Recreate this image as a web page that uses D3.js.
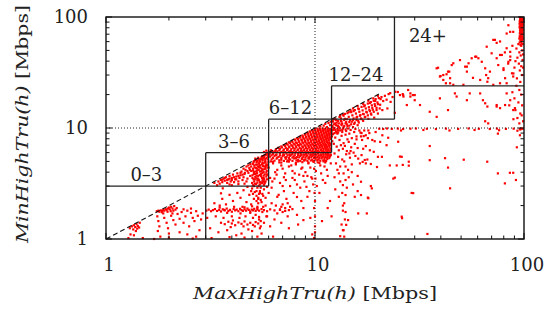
<!DOCTYPE html>
<html>
<head>
<meta charset="utf-8">
<script src="https://cdn.jsdelivr.net/npm/d3@7"></script>
<style>
  body { margin: 0; background: #fff; }
  text { font-family: "DejaVu Serif", serif; fill: #222; }
</style>
</head>
<body>
<div id="container"></div>
<script>
// [MaxHighTru, MinHighTru] in Mbps
const lowCluster = [
  [1.30,1.25],[1.33,1.30],[1.36,1.33],[1.38,1.28],[1.40,1.36],[1.42,1.31],[1.35,1.22],[1.44,1.27],[1.39,1.18],[1.31,1.10],[1.36,1.08],[1.28,1.02],[1.45,1.40],[1.41,1.24],
  [1.75,1.78],[1.78,1.80],[1.80,1.76],[1.83,1.81],[1.86,1.79],[1.88,1.84],[1.90,1.80],[1.93,1.86],[1.95,1.82],[1.98,1.88],[2.00,1.92],[2.02,1.85],[2.05,1.95],[2.08,1.88],[2.10,1.80],[2.12,1.98],[2.04,1.78],[1.97,1.76],[1.85,1.74],[2.15,1.84],[2.18,1.90],
  [1.76,1.60],[1.78,1.45],[1.80,1.30],[1.77,1.18],[1.82,1.05],[1.90,1.55],[1.95,1.40],[1.98,1.25],[2.00,1.12],[2.05,1.62],[2.10,1.48],[2.15,1.35],[2.20,1.68],[2.25,1.52],[2.30,1.75],[2.35,1.40],[2.40,1.60],[2.45,1.80],[2.50,1.30],[2.55,1.72],[2.60,1.55],[2.65,1.45],[2.70,1.78],[2.75,1.62],[2.80,1.20],[2.85,1.50],[2.25,1.15],[2.45,1.10],[2.70,1.05],[1.88,1.70],[2.08,1.70],[2.35,1.85],[2.55,1.88],[2.90,1.70],
  [1.5,1.02],[1.7,1.0],[2.0,1.03],[2.6,1.01]
];

const bandRows = [
  [3.02,1.80],[3.10,1.84],[3.18,1.78],[3.25,1.82],[3.32,1.86],[3.40,1.79],[3.48,1.83],[3.55,1.77],[3.62,1.85],[3.70,1.81],[3.78,1.88],[3.85,1.79],[3.92,1.83],[4.00,1.76],[4.08,1.86],[4.15,1.81],[4.22,1.84],[4.30,1.78],[4.38,1.87],[4.45,1.82],[4.52,1.79],[4.60,1.85],[4.68,1.80],[4.75,1.88],[4.82,1.83],[4.90,1.77],[4.98,1.84],[5.05,1.81],[5.12,1.87],[5.20,1.79],[5.30,1.84],[5.40,1.80],[5.55,1.86],[5.70,1.82],[5.90,1.78],[6.10,1.85],[6.40,1.81],[6.80,1.83],[7.20,1.79],[7.50,1.82],[7.80,1.86],
  [3.5,1.92],[4.1,1.95],[4.6,1.93],[5.0,1.97],[3.8,1.72],[4.4,1.70],[4.9,1.72],[5.3,1.95],
  [3.55,1.40],[3.70,1.36],[3.85,1.43],[4.00,1.38],[4.15,1.33],[4.30,1.41],[4.45,1.37],[4.60,1.44],[4.75,1.35],[4.90,1.40],[5.05,1.34],[5.20,1.42],[5.35,1.38],[5.50,1.45],[4.05,1.47],[4.55,1.30],[5.15,1.30],[3.95,1.28],
  [3.05,1.55],[3.15,1.25],[3.3,2.1],[3.35,1.6],[3.45,1.15],[3.6,2.3],[3.65,1.55],[3.75,2.05],[3.8,1.2],[3.9,2.5],[4.0,1.6],[4.05,2.2],[4.2,1.08],[4.25,2.6],[4.35,1.55],[4.4,2.35],[4.5,1.95],[4.55,2.75],[4.65,1.6],[4.7,2.15],[4.8,1.22],[4.85,2.5],[4.95,2.05],[5.0,2.85],[5.05,1.55],[5.1,2.3],[5.15,2.65],[5.2,1.65],[5.25,2.45],[5.3,2.9],[5.35,2.1],[5.4,1.58],[5.45,2.7],[5.5,2.25],[5.55,1.12],[5.6,2.55],[5.65,1.95],[5.7,2.8],[5.8,2.35],[5.9,1.6],[6.0,2.6],[6.2,2.1],[6.4,1.5],[6.6,2.4],[6.9,1.95],[7.1,2.7],[7.4,1.6],[3.2,1.02],[3.9,1.04],[4.6,1.03],[5.3,1.05],[4.45,1.12],[5.0,1.18],[5.45,1.25],[3.5,2.0],[4.75,2.95],[5.1,3.0],[5.25,2.2],[5.4,2.55],[5.5,2.9],[5.05,2.55],[4.95,2.7],[5.35,2.35],
  [5.25,2.7],[5.45,2.6],[5.65,2.45],[5.35,2.3],[5.55,2.15],[5.8,2.0],[5.3,1.9],[5.6,1.75],[5.85,1.6],[5.4,1.5],[5.7,1.4],[5.5,1.3],
  [3.62,2.86],[3.55,2.58],[3.68,1.83]
];

const midScatter = [
  [6.3,4.8],[6.6,4.2],[6.9,4.6],[7.2,3.9],[7.5,4.5],[7.8,4.1],[8.1,4.7],[8.4,3.8],[8.7,4.4],[9.0,4.0],[9.3,4.8],[9.6,3.6],[9.9,4.3],[10.3,4.9],[10.7,3.9],[11.1,4.5],[11.5,3.7],[6.4,3.5],[6.8,3.2],[7.1,3.6],[7.6,3.0],[8.0,3.4],[8.5,2.9],[8.9,3.3],[9.4,2.7],[9.8,3.1],[10.5,2.6],[11.2,3.2],[6.2,2.9],[6.7,2.5],[7.3,2.3],[7.9,2.6],[8.6,2.2],[9.2,2.4],[6.5,2.0],[6.8,1.85],[7.0,2.05],[7.2,1.9],[7.4,2.1],[7.0,1.75],[6.6,1.7],[7.6,1.95],[8.2,1.65],[8.8,1.9],[9.5,1.55],[9.9,1.9],[10.0,1.3],[10.0,1.15],[10.0,2.2],[9.7,1.1],[8.3,1.35],[7.5,1.25],[6.9,1.4],[11.8,2.2],[12.5,2.8],[13.2,3.3],[13.5,2.6],[13.8,2.1],[13.6,1.8],[13.9,1.5],[13.4,1.35],[13.7,1.2],[13.8,1.05],[14.2,2.9],[14.5,3.6],[12.8,4.2],[13.0,3.9],[14.0,4.5],[15.0,4.0],[16.0,3.7],[17.5,4.8],[12.0,1.6],[11.5,1.9],[15.5,2.4],[10.8,1.45],[6.1,1.3],[6.3,1.05],
  [5.8,4.9],[6.0,4.4],[6.15,5.0],[6.45,4.0],[6.75,4.9],[7.0,4.3],[7.35,5.0],[7.7,4.6],[8.0,3.9],[8.3,5.0],[8.6,4.3],[8.9,5.1],[9.2,3.7],[9.5,4.4],[9.8,5.0],[10.1,4.1],[10.6,4.6],[11.0,5.0],[11.4,4.2],[11.9,4.8],[5.9,3.8],[6.25,3.3],[6.55,3.8],[7.0,3.0],[7.25,3.4],[7.8,3.55],[8.2,3.1],[8.8,3.7],[9.1,2.95],[9.7,3.5],[10.2,3.0],[10.9,3.4],[5.7,3.3],[5.9,2.95],[6.1,3.55],
  [8.2,2.39],[8.8,1.48],[9.9,1.02],[10.0,1.6],[9.95,2.6],[10.05,3.5],
  [13.7,3.9],[13.6,3.06],[14.0,2.49],[13.6,2.0],[14.0,1.75],[14.4,1.48],[14.1,1.34],[13.6,1.2],[13.2,1.06]
];

const diagonalCore = [
  [3.45,3.3],[3.55,3.4],[3.6,3.25],[3.65,3.5],[3.7,3.35],[3.75,3.6],[3.8,3.2],[3.85,3.45],[3.9,3.7],[3.95,3.3],[4.0,3.55],[4.05,3.8],[4.1,3.25],[4.15,3.45],[4.2,3.65],[4.25,3.9],[4.3,3.3],[4.35,3.55],[4.4,3.75],[4.45,4.05],[4.5,3.4],[4.55,3.6],[4.6,3.85],[4.65,4.2],[4.7,3.3],[4.75,3.5],[4.8,3.95],[4.85,4.35],[4.9,3.7],[4.95,4.1],[3.5,3.15],[3.9,3.1],[4.3,3.12],[4.6,3.15],[3.3,3.2],[3.4,3.05],[4.0,3.05],
  [5.05,3.05],[5.22,3.12],[5.38,3.02],[5.55,3.18],[5.7,3.08],[5.12,3.3],[5.3,3.38],[5.46,3.25],[5.62,3.42],[5.8,3.3],[5.02,3.55],[5.18,3.62],[5.35,3.5],[5.52,3.68],[5.68,3.55],[5.85,3.65],[5.1,3.85],[5.28,3.92],[5.44,3.78],[5.6,3.95],[5.75,3.82],[5.06,4.15],[5.2,4.05],[5.38,4.2],[5.55,4.1],[5.72,4.25],[5.88,4.12],[5.14,4.42],[5.32,4.5],[5.48,4.38],[5.64,4.55],[5.8,4.45],[5.04,4.75],[5.22,4.68],[5.4,4.82],[5.58,4.72],[5.75,4.88],[5.9,4.7],[5.1,5.02],[5.28,5.1],[5.45,4.98],[5.62,5.15],[5.78,5.05],[5.95,5.2],[5.18,5.3],[5.35,5.4],[5.52,5.28],[5.7,5.45],[5.86,5.35],[5.25,3.72],[5.42,4.62],[5.6,3.2],[5.3,4.3],[5.5,5.2],[5.15,3.45],[5.68,4.0],
  [6.05,5.82],[6.3,5.85],[6.55,5.78],[6.8,5.86],[7.05,5.8],[7.3,5.88],[7.55,5.79],[7.8,5.84],[8.05,5.9],[8.3,5.81],[8.55,5.87],[8.8,5.78],[9.05,5.85],[9.3,5.9],[9.55,5.8],[9.8,5.86],[10.05,5.82],[10.35,5.88],[10.65,5.79],[10.95,5.85],[11.25,5.9],[11.55,5.83],[11.85,5.78],
  [6.1,5.52],[6.4,5.6],[6.7,5.5],[7.0,5.58],[7.3,5.48],[7.6,5.62],[7.9,5.54],[8.2,5.46],[8.5,5.6],[8.8,5.52],[9.1,5.58],[9.4,5.47],[9.7,5.6],[10.0,5.55],[10.3,5.5],[10.6,5.62],[10.9,5.53],[11.2,5.48],[11.5,5.6],[11.8,5.55],
  [6.2,5.22],[6.55,5.3],[6.9,5.18],[7.25,5.28],[7.6,5.2],[7.95,5.32],[8.3,5.15],[8.65,5.26],[9.0,5.2],[9.35,5.3],[9.7,5.18],[10.05,5.28],[10.4,5.2],[10.75,5.32],[11.1,5.16],[11.45,5.25],
  [6.3,4.95],[6.9,4.88],[7.5,4.98],[8.1,4.85],[8.7,4.92],[9.3,4.87],[9.9,4.96],[10.5,4.84],[11.2,4.9],
  [5.7,6.08],[6.0,6.12],[6.3,6.05],[6.6,6.15],[6.9,6.1],[7.2,6.06],[7.5,6.14],[7.8,6.08],[8.1,6.12],[8.4,6.04],[8.7,6.16],[9.0,6.1],[9.3,6.07],[9.6,6.13],[9.9,6.05],[10.2,6.15],[10.5,6.09],[10.8,6.12],[11.1,6.06],[11.4,6.14],[11.7,6.1],
  [6.5,6.42],[6.8,6.5],[7.1,6.4],[7.4,6.48],[7.7,6.44],[8.0,6.52],[8.3,6.4],[8.6,6.47],[8.9,6.43],[9.2,6.5],[9.5,6.41],[9.8,6.48],[10.1,6.44],[10.4,6.52],[10.7,6.4],[11.0,6.46],[11.3,6.5],[11.6,6.42],[11.9,6.47],
  [6.9,6.82],[7.2,6.9],[7.5,6.8],[7.8,6.88],[8.1,6.84],[8.4,6.92],[8.7,6.8],[9.0,6.86],[9.3,6.9],[9.6,6.82],[9.9,6.88],[10.2,6.8],[10.5,6.9],[10.8,6.84],[11.1,6.88],[11.4,6.82],[11.7,6.9],
  [7.3,7.2],[7.6,7.3],[7.9,7.22],[8.2,7.28],[8.5,7.2],[8.8,7.32],[9.1,7.24],[9.4,7.3],[9.7,7.2],[10.0,7.28],[10.3,7.22],[10.6,7.3],[10.9,7.25],[11.2,7.2],[11.5,7.3],[11.8,7.24],
  [7.75,7.66],[8.05,7.74],[8.35,7.68],[8.65,7.75],[8.95,7.66],[9.25,7.72],[9.55,7.68],[9.85,7.76],[10.15,7.7],[10.45,7.66],[10.75,7.74],[11.05,7.7],[11.35,7.66],[11.65,7.74],
  [8.2,8.1],[8.5,8.2],[8.8,8.12],[9.1,8.18],[9.4,8.1],[9.7,8.2],[10.0,8.14],[10.3,8.2],[10.6,8.1],[10.9,8.16],[11.2,8.2],[11.5,8.12],[11.8,8.18],
  [8.7,8.56],[9.0,8.64],[9.3,8.58],[9.6,8.62],[9.9,8.56],[10.2,8.64],[10.5,8.58],[10.8,8.62],[11.1,8.56],[11.4,8.64],[11.7,8.6],
  [9.2,9.05],[9.5,9.14],[9.8,9.08],[10.1,9.12],[10.4,9.06],[10.7,9.14],[11.0,9.08],[11.3,9.12],[11.6,9.05],[11.9,9.14],
  [9.7,9.55],[10.0,9.64],[10.3,9.58],[10.6,9.62],[10.9,9.56],[11.2,9.64],[11.5,9.58],[11.8,9.62]
];

// second pass over the solid red wedge, between the rows above
const denseFill = [
  [5.85,6.25],[6.15,6.3],[6.45,6.22],[6.75,6.28],[7.05,6.24],[7.35,6.3],[7.65,6.22],[7.95,6.27],[8.25,6.3],[8.55,6.23],[8.85,6.28],[9.15,6.25],[9.45,6.3],[9.75,6.22],[10.05,6.28],[10.35,6.24],[10.65,6.3],[10.95,6.22],[11.25,6.27],[11.55,6.3],[11.85,6.24],
  [6.65,6.62],[6.95,6.68],[7.25,6.6],[7.55,6.7],[7.85,6.64],[8.15,6.68],[8.45,6.6],[8.75,6.7],[9.05,6.63],[9.35,6.68],[9.65,6.61],[9.95,6.7],[10.25,6.64],[10.55,6.68],[10.85,6.6],[11.15,6.7],[11.45,6.64],[11.75,6.68],
  [7.1,7.02],[7.4,7.08],[7.7,7.0],[8.0,7.1],[8.3,7.04],[8.6,7.08],[8.9,7.0],[9.2,7.1],[9.5,7.04],[9.8,7.08],[10.1,7.02],[10.4,7.1],[10.7,7.04],[11.0,7.08],[11.3,7.02],[11.6,7.1],[11.9,7.05],
  [7.5,7.42],[7.8,7.48],[8.1,7.4],[8.4,7.5],[8.7,7.44],[9.0,7.48],[9.3,7.4],[9.6,7.5],[9.9,7.44],[10.2,7.48],[10.5,7.42],[10.8,7.5],[11.1,7.44],[11.4,7.48],[11.7,7.42],
  [8.0,7.88],[8.3,7.94],[8.6,7.86],[8.9,7.92],[9.2,7.88],[9.5,7.94],[9.8,7.86],[10.1,7.92],[10.4,7.88],[10.7,7.94],[11.0,7.86],[11.3,7.92],[11.6,7.88],[11.9,7.94],
  [8.45,8.32],[8.75,8.38],[9.05,8.3],[9.35,8.4],[9.65,8.34],[9.95,8.38],[10.25,8.3],[10.55,8.4],[10.85,8.34],[11.15,8.38],[11.45,8.3],[11.75,8.4],
  [8.95,8.82],[9.25,8.88],[9.55,8.8],[9.85,8.9],[10.15,8.84],[10.45,8.88],[10.75,8.8],[11.05,8.9],[11.35,8.84],[11.65,8.88],[11.95,8.82],
  [9.45,9.32],[9.75,9.38],[10.05,9.3],[10.35,9.4],[10.65,9.34],[10.95,9.38],[11.25,9.3],[11.55,9.4],[11.85,9.34],
  [10.0,9.82],[10.3,9.88],[10.6,9.8],[10.9,9.9],[11.2,9.84],[11.5,9.88],[11.8,9.82],
  [10.6,10.3],[11.0,10.5],[11.4,10.2],[11.8,10.6],[11.2,10.9],[11.6,11.1],[11.9,11.4],
  [6.2,5.68],[6.5,5.72],[6.8,5.66],[7.1,5.72],[7.4,5.68],[7.7,5.74],[8.0,5.66],[8.3,5.72],[8.6,5.7],[8.9,5.74],[9.2,5.66],[9.5,5.72],[9.8,5.68],[10.1,5.74],[10.4,5.66],[10.7,5.72],[11.0,5.7],[11.3,5.74],[11.6,5.66],[11.9,5.7],
  [6.3,5.38],[6.6,5.42],[6.9,5.36],[7.2,5.44],[7.5,5.38],[7.8,5.42],[8.1,5.36],[8.4,5.44],[8.7,5.38],[9.0,5.42],[9.3,5.36],[9.6,5.44],[9.9,5.38],[10.2,5.42],[10.5,5.36],[10.8,5.44],[11.1,5.38],[11.4,5.42],[11.7,5.36],
  [6.4,5.08],[6.75,5.12],[7.1,5.05],[7.45,5.12],[7.8,5.06],[8.15,5.1],[8.5,5.04],[8.85,5.12],[9.2,5.06],[9.55,5.1],[9.9,5.05],[10.25,5.12],[10.6,5.06],[10.95,5.1],[11.3,5.04],
  [5.0,3.2],[5.15,3.15],[5.3,3.22],[5.45,3.1],[5.6,3.3],[5.75,3.18],[5.9,3.45],[5.08,3.45],[5.25,3.52],[5.4,3.38],[5.58,3.55],[5.72,3.45],[5.95,3.8],[5.02,3.75],[5.18,3.85],[5.35,3.7],[5.52,3.85],[5.68,3.72],[5.85,3.98],[5.1,4.0],[5.27,4.12],[5.45,4.05],[5.62,4.2],[5.8,4.3],[5.95,4.4],[5.05,4.3],[5.22,4.35],[5.4,4.45],[5.56,4.3],[5.72,4.5],[5.9,4.6],[5.12,4.6],[5.3,4.7],[5.48,4.6],[5.65,4.8],[5.82,4.62],[5.98,4.95],[5.08,4.9],[5.25,4.95],[5.42,5.1],[5.6,4.9],[5.78,5.25],[5.94,5.5],[5.2,5.15],[5.38,5.25],[5.55,5.45],[5.72,5.6],[5.88,5.75],[5.3,5.0],[5.65,5.35],
  [4.55,4.3],[4.7,4.5],[4.8,4.6],[4.9,4.75],[4.95,4.5],[4.75,4.1],[4.88,4.2],[4.62,3.95],[4.5,3.8],[4.4,3.95],[4.3,3.7],[4.2,3.45],[4.1,3.6],[4.0,3.4],[3.9,3.5],[3.8,3.4],[3.7,3.55],[3.6,3.42],
  [5.6,5.58],[5.75,5.7],[5.85,5.8],[5.95,5.9],[6.0,5.7],[6.1,6.0],[6.25,6.2]
];

const upperBand = [
  [12.1,11.6],[12.3,10.8],[12.5,12.1],[12.7,11.2],[12.9,10.4],[13.1,12.6],[13.3,11.6],[13.5,10.9],[13.7,12.9],[13.9,12.1],[14.1,11.3],[14.3,13.6],[14.5,12.6],[14.7,11.8],[14.9,13.9],[15.1,13.0],[15.3,12.2],[15.5,14.5],[15.7,13.5],[15.9,12.6],[16.1,15.0],[16.3,14.0],[16.5,13.1],[16.7,15.5],[16.9,14.4],[17.1,13.3],[17.3,16.0],[17.5,15.0],[17.7,13.8],[17.9,16.6],[18.1,15.4],[18.3,14.2],[18.5,17.1],[18.7,16.0],[18.9,14.6],[19.1,17.6],[19.3,16.4],[19.5,18.2],[19.7,15.2],[19.9,17.0],[20.2,18.6],[20.5,16.2],[20.8,19.0],[21.2,17.5],[21.6,19.5],[22.0,18.0],[22.5,20.2],[23.0,17.2],[23.5,19.0],
  [12.0,9.2],[12.2,9.6],[12.4,10.0],[12.6,9.3],[12.8,9.8],[13.0,10.2],[13.2,9.5],[13.4,10.6],[13.6,9.9],[13.8,10.4],[14.0,9.7],[14.2,10.8],[12.1,10.4],[12.5,11.0],[12.9,11.6],[13.3,12.2],[12.2,11.4],[12.6,10.6],[13.0,11.0],[13.4,11.4],[13.8,11.8],[14.2,12.0],[14.6,10.5],[15.0,11.4],[15.4,10.9],[15.8,11.8],[16.2,11.2],[16.6,12.2],[17.0,11.6],[17.4,12.6],[18.0,12.1],[18.6,13.2],[19.2,12.4],[20.0,13.5],[21.0,14.5],[22.2,15.0],[12.3,12.0],[13.6,13.2],[14.8,14.4],
  [15.2,15.0],[16.0,15.8],[17.0,16.5],[18.0,17.6],[19.0,18.5],[20.0,19.5],
  [12.2,10.1],[12.5,9.6],[12.8,10.5],[13.1,9.9],[13.4,10.9],[13.7,10.2],[14.0,11.0],[14.3,10.4],[14.6,11.3],[14.9,10.8],[15.2,11.8],[15.5,11.2],[15.8,12.4],[16.1,11.6],[16.4,12.9],[16.7,12.0],[17.0,13.4],[17.3,12.5],[17.6,14.0],[17.9,13.0],[18.2,14.6],[18.5,13.5],[18.8,15.2],[19.1,14.0],[19.4,15.8],[19.7,14.5],[20.0,16.4],[20.4,15.0],[12.4,9.0],[12.9,9.1],[13.5,9.6],[14.4,9.9],[15.2,10.2],[16.0,10.6],[12.1,11.9],[12.6,11.8],[13.2,12.9],[13.9,13.4],[14.5,13.9],[15.3,14.2],[16.2,14.8],[17.2,15.7],[18.3,16.8],[19.4,17.5],[20.6,18.2],[12.05,8.4],[12.3,9.9],[12.7,9.1],
  [12.2,8.8],[12.5,8.2],[12.8,8.9],[13.1,7.8],[13.4,8.5],[13.7,7.3],[14.0,8.7],[14.3,7.9],[14.6,8.9],[15.0,8.1],[15.4,9.2],[15.8,8.4],[16.3,9.5],[12.3,7.2],[12.7,6.8],[13.0,6.3],[13.3,7.0],[13.6,6.5],[13.9,6.9],[14.2,6.2],[14.5,7.5],[14.9,6.7],[15.5,7.2],[16.0,6.6],[16.8,7.8],[17.5,8.6],[18.2,9.0],[12.4,5.9],[12.9,5.5],[13.5,5.2],[14.1,5.8],[14.7,5.4],[15.3,6.0],[12.6,4.8],[13.2,4.5],[13.8,5.0],[14.4,4.2],[12.1,7.6],[12.9,9.5],[13.5,9.2],[14.1,9.4],[14.8,9.6],[15.6,9.8],[16.5,9.1],[17.2,9.5],
  [14.8,6.2],[15.6,5.6],[16.4,4.8],[15.0,4.7],[14.0,3.4],[15.2,3.1],[16.0,2.7],[13.0,2.4],[12.4,3.6],[14.6,5.9],[17.0,6.5],[17.8,5.2],[15.8,7.9],[16.6,8.4],
  [16.7,9.0],[17.1,8.45],[17.9,8.1],[18.8,7.8],[19.3,7.6],[20.5,7.5],[17.5,6.87],[18.3,6.3],[19.1,6.1],[20.0,5.5],[16.7,5.7],[17.3,5.15],[18.5,4.74],[19.8,4.45],[16.9,4.95],[21.0,8.6],[22.0,7.0],[19.5,9.2],[18.0,9.5]
];

const rightScatter = [
  [20.3,9.85],[21.2,9.8],[22.1,9.9],[23.3,9.82],[24.9,9.88],[26.4,9.8],[28.6,9.86],[30.4,9.9],[34.3,9.84],[37.9,9.78],[42.3,9.88],[48.4,9.82],[54.3,9.9],[60.8,9.84],[68.6,9.8],[74.2,9.88],[81.9,9.82],[89.2,9.86],[95.5,9.8],[97.0,9.9],[98.5,9.84],[96.0,9.7],[25.8,9.5],[33.0,9.6],[44.0,9.5],[58.0,9.6],[76.0,9.55],[93.0,9.45],
  [96,97],[97,95],[98,93],[95.5,91],[97.5,90],[98.5,88],[96.5,86],[97,84],[98,82],[95.5,80],[96.8,78],[98.2,76],[97.3,74],[95.8,72],[98.6,70],[96.2,68],[97.6,66],[95,64],[98,62],[96.5,60],[97.8,93],[96.3,89],[98.9,85],[95.9,83],[97.2,80],[98.4,79],[96.0,75],[97.9,72],[96.7,70],[95.4,67],[98.8,96],[97.4,98],[96.1,94],[99.0,91],[95.2,87],[96.9,92],[98.1,87],[97.0,77],
  [95.8,99],[96.4,96],[97.6,97],[98.3,95],[95.6,93],[96.6,92],[98.6,92],[97.1,89],[95.8,88],[98.0,90],[96.8,84],[97.8,85],[95.3,82],[98.5,83],[96.4,81],[97.5,82],[96,79],[98.8,77],[95.7,76],[97.4,76],[96.6,73],[98.3,73],[95.5,71],[97.3,71],[96.8,67],[98.4,67],[95.9,65],[97.1,63],[98.9,64],[96.1,62],[95.3,59],[97.4,58],[98.7,57],[96.2,56],
  [94,57],[97,55],[92,52],[98,50],[95,48],[96.5,45],[93,43],[98.5,41],[94.5,38],[97,36],[90,35],[95.5,33],[98,30],[92.5,28],[96,26],[89,31],[86,44],[84,38],[81,48],[88,55],[99,46],[99,35],[91,40],
  [92,24],[95,22],[97,20],[90,18.5],[94,17],[98,16],[91,14.5],[96,13.5],[93,12.3],[99,11.5],[88,21],[85,16],[89,12],[95,11],[97.5,13],
  [92.4,6.7],[95.6,8.6],[91.5,3.4],[85.6,3.95],[88.8,3.95],[81,3.17],[75,3.9],[66.7,4.97],[75,8.9],
  [22.4,8.17],[25.0,7.52],[25.5,5.53],[26.3,4.65],[28.1,4.97],[28.1,4.58],[35.4,6.88],[35.4,5.13],[41.9,5.35],[43.3,4.4],[51.5,5.18],[24.1,3.57],[18.5,3.0],[29.5,2.59],[44.3,2.86],[17.9,2.36],[17.7,1.70],[26.1,1.54],[34.5,1.11],[16.6,3.28],[16.6,2.49],[16.1,5.3],
  [38.8,34.9],[39.9,29.4],[41.1,30.0],[42.6,30.5],[43.9,32.2],[44.3,28.1],[45.1,36.9],[45.9,38.3],[42.3,25.3],[45.9,24.5],[49.4,40.9],[52.3,35.7],[53.3,32.2],[54.3,38.3],[57.0,28.3],[58.4,43.9],[60.5,42.5],[62.8,39.5],[65.2,34.5],[65.9,30.0],[66.8,26.1],[68.7,32.2],[70.0,47.1],[72.6,62.2],[76.8,60.2],[74.0,42.5],[75.3,36.9],[78.3,45.5],[79.8,33.3],[81.2,28.1],[82.6,52.3],[84.2,39.5],[85.9,73.5],[85.9,48.5],[87.6,31.1],[82.6,25.3],[71.3,24.5],[76.8,25.3],[61.7,27.1],[51.3,24.5],[67.4,28.1],[56.2,42.5],
  [25.5,19.8],[26.5,19.2],[28.6,20.5],[30.0,19.8],[27.5,16.1],[31.8,16.1],[35.4,14.0],[38.2,12.6],[39.6,18.5],[43.3,14.5],[46.7,20.5],[47.6,19.2],[55.0,20.5],[61.7,20.5],[65.2,16.7],[66.8,15.6],[67.4,11.0],[65.2,11.5],[74.0,16.1],[76.8,15.1],[81.2,16.1],[82.6,20.5],[85.9,17.8],[88.8,14.5],
  [24.2,21.2],[26.3,20.2],[27.9,22.0],[28.6,19.2],[30.0,17.8],[38.2,34.5],[39.6,29.1],[41.1,27.1],[43.3,32.2],[44.3,25.3],[53.3,35.7],[59.1,43.9],[66.3,54.0],[71.3,62.2],[74.0,58.5],[82.6,71.0],[84.2,84.3],[88.8,73.5],[76.8,45.5],[85.9,40.9],[79.8,34.5],[88.8,29.1],[53.3,17.8],[63.6,17.8],[74.0,15.6],[90.5,15.1],
  [22.9,20.6],[24.9,21.1],[26.4,19.8],[29.4,19.8],[24.1,13.7],[26,5.5],[24.6,4.6],[22.8,4.6],[20.9,5.5],[23.7,3.5],[29.0,2.6],[26,1.59],[18.7,2.86],[18,2.33],[16.1,1.7]
];

// staircase class boundaries
const classBounds = [3, 6, 12, 24];
const classLower = [1, 3, 6, 12];
const classUpper = [6, 12, 24, 100];
const classLabels = ["0–3", "3–6", "6–12", "12–24", "24+"];
const labelX = [1.56, 4.1, 7.63, 15.7, 34.7];
const labelY = [3, 6, 12, 24, 54];

const tickValues = [1, 10, 100];

const W = 548, H = 310;
const x = d3.scaleLog().domain([1, 100]).range([106, 524]);
const y = d3.scaleLog().domain([1, 100]).range([239, 17]);

const svg = d3.select("#container").append("svg")
    .attr("width", W)
    .attr("height", H);
svg.append("rect").attr("width", W).attr("height", H).attr("fill", "#fff");

const points = [].concat(lowCluster, bandRows, midScatter, diagonalCore, denseFill, upperBand, rightScatter);

// dots
svg.append("g")
    .attr("fill", "#ff0000")
    .selectAll("rect")
    .data(points)
    .join("rect")
    .attr("x", d => x(d[0]) - 1.1)
    .attr("y", d => y(d[1]) - 1.1)
    .attr("width", 2.2)
    .attr("height", 2.2);

// dotted guide lines at 10
svg.append("line")
    .attr("x1", x(10)).attr("x2", x(10))
    .attr("y1", y(1)).attr("y2", y(100))
    .attr("stroke", "#222").attr("stroke-width", 1).attr("stroke-dasharray", "1,2");
svg.append("line")
    .attr("x1", x(1)).attr("x2", x(100))
    .attr("y1", y(10)).attr("y2", y(10))
    .attr("stroke", "#222").attr("stroke-width", 1).attr("stroke-dasharray", "1,2");

// diagonal y = x
svg.append("line")
    .attr("x1", x(1)).attr("y1", y(1))
    .attr("x2", x(20.5)).attr("y2", y(20.5))
    .attr("stroke", "#111").attr("stroke-width", 1.1).attr("stroke-dasharray", "5,3");

// staircase
const stairs = svg.append("g").attr("stroke", "#222").attr("stroke-width", 1.3).attr("fill", "none");
classBounds.forEach((b, i) => {
    stairs.append("line")
        .attr("x1", x(classLower[i])).attr("x2", x(classUpper[i]))
        .attr("y1", y(b)).attr("y2", y(b));
    stairs.append("line")
        .attr("x1", x(b)).attr("x2", x(b))
        .attr("y1", y(classLower[i])).attr("y2", y(classUpper[i]));
});

svg.append("g")
    .selectAll("text")
    .data(classLabels)
    .join("text")
    .attr("x", (d, i) => x(labelX[i]))
    .attr("y", (d, i) => y(labelY[i]) - 5)
    .attr("text-anchor", "middle")
    .attr("font-size", 18)
    .text(d => d);

// frame and ticks on all sides
svg.append("rect")
    .attr("x", 106).attr("y", 17)
    .attr("width", 418).attr("height", 222)
    .attr("fill", "none").attr("stroke", "#111").attr("stroke-width", 1.4);

const allTicks = x.ticks(10);
const ticksG = svg.append("g").attr("stroke", "#111").attr("stroke-width", 1);
allTicks.forEach(t => {
    const major = tickValues.includes(t);
    const len = major ? 6 : 3.5;
    ticksG.append("line").attr("x1", x(t)).attr("x2", x(t)).attr("y1", y(1)).attr("y2", y(1) - len);
    ticksG.append("line").attr("x1", x(t)).attr("x2", x(t)).attr("y1", y(100)).attr("y2", y(100) + len);
    ticksG.append("line").attr("y1", y(t)).attr("y2", y(t)).attr("x1", x(1)).attr("x2", x(1) + len);
    ticksG.append("line").attr("y1", y(t)).attr("y2", y(t)).attr("x1", x(100)).attr("x2", x(100) - len);
});

svg.append("g").selectAll("text")
    .data(tickValues).join("text")
    .attr("x", d => x(d) + 3)
    .attr("y", 271)
    .attr("text-anchor", "middle")
    .attr("font-size", 18)
    .text(d => d);

svg.append("g").selectAll("text")
    .data(tickValues).join("text")
    .attr("x", 88)
    .attr("y", d => y(d) + 6)
    .attr("text-anchor", "end")
    .attr("font-size", 18)
    .text(d => d);

// axis titles
const xt = svg.append("text")
    .attr("x", 315).attr("y", 299)
    .attr("text-anchor", "middle")
    .attr("font-size", 17)
    .attr("textLength", 244)
    .attr("lengthAdjust", "spacingAndGlyphs");
xt.append("tspan").attr("font-style", "italic").text("MaxHighTru(h)");
xt.append("tspan").text(" [Mbps]");

const yt = svg.append("text")
    .attr("transform", "translate(28,124) rotate(-90)")
    .attr("text-anchor", "middle")
    .attr("font-size", 17)
    .attr("textLength", 238)
    .attr("lengthAdjust", "spacingAndGlyphs");
yt.append("tspan").attr("font-style", "italic").text("MinHighTru(h)");
yt.append("tspan").text(" [Mbps]");
</script>
</body>
</html>
